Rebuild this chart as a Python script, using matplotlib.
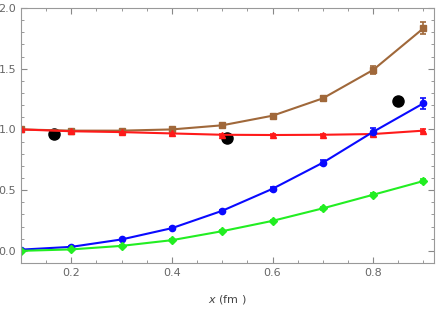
import matplotlib
matplotlib.use("Agg")
import matplotlib.pyplot as plt
from matplotlib.ticker import MultipleLocator

x = [0.1, 0.2, 0.3, 0.4, 0.5, 0.6, 0.7, 0.8, 0.9]
brown = [1.0, 0.99, 0.99, 1.0, 1.034, 1.113, 1.256, 1.49, 1.833]
brown_err = [0.005, 0.005, 0.005, 0.006, 0.008, 0.01, 0.02, 0.03, 0.05]
red = [1.0, 0.985, 0.978, 0.967, 0.956, 0.954, 0.956, 0.962, 0.99]
red_err = [0.005, 0.01, 0.01, 0.01, 0.01, 0.01, 0.01, 0.01, 0.01]
blue = [0.01, 0.033, 0.094, 0.187, 0.33, 0.511, 0.726, 0.98, 1.215]
blue_err = [0.005, 0.005, 0.006, 0.008, 0.01, 0.015, 0.02, 0.03, 0.045]
green = [0.0, 0.012, 0.041, 0.088, 0.162, 0.247, 0.35, 0.462, 0.575]
green_err = [0.005, 0.005, 0.005, 0.006, 0.008, 0.01, 0.01, 0.012, 0.02]
dots_x = [0.166, 0.51, 0.849]
dots_y = [0.96, 0.927, 1.237]

fig = plt.figure(figsize=(4.36, 3.10), dpi=100)
ax = fig.add_axes([21/436, 1-263/310, (434-21)/436, (263-8)/310])

series = [
    (brown, brown_err, "#a0683a", "s"),
    (red, red_err, "#ff1a1a", "^"),
    (blue, blue_err, "#0a0aff", "o"),
    (green, green_err, "#22ee22", "D"),
]
for y, e, c, m in series:
    ax.errorbar(x, y, yerr=e, color=c, marker=m, markersize=4.5, lw=1.5,
                capsize=2, elinewidth=1.2, capthick=1.2)

ax.plot(dots_x, dots_y, "o", color="black", markersize=8)

ax.set_xlim(0.1, 0.921)
ax.set_ylim(-0.1, 2.0)
ax.xaxis.set_major_locator(MultipleLocator(0.2))
ax.xaxis.set_minor_locator(MultipleLocator(0.05))
ax.yaxis.set_major_locator(MultipleLocator(0.5))
ax.yaxis.set_minor_locator(MultipleLocator(0.1))
ax.tick_params(which="both", direction="in", top=True, right=True,
               colors="#888888", labelcolor="#666666", labelsize=8)
ax.tick_params(which="major", length=4)
ax.tick_params(which="minor", length=2)
for s in ax.spines.values():
    s.set_color("#999999")
ax.set_xlabel(r"$x$ (fm )", color="#444444", fontsize=8, labelpad=11)
ax.yaxis.set_major_formatter(matplotlib.ticker.FormatStrFormatter("%.1f"))
ax.xaxis.set_major_formatter(matplotlib.ticker.FormatStrFormatter("%.1f"))

fig.savefig("out.png", dpi=100)
